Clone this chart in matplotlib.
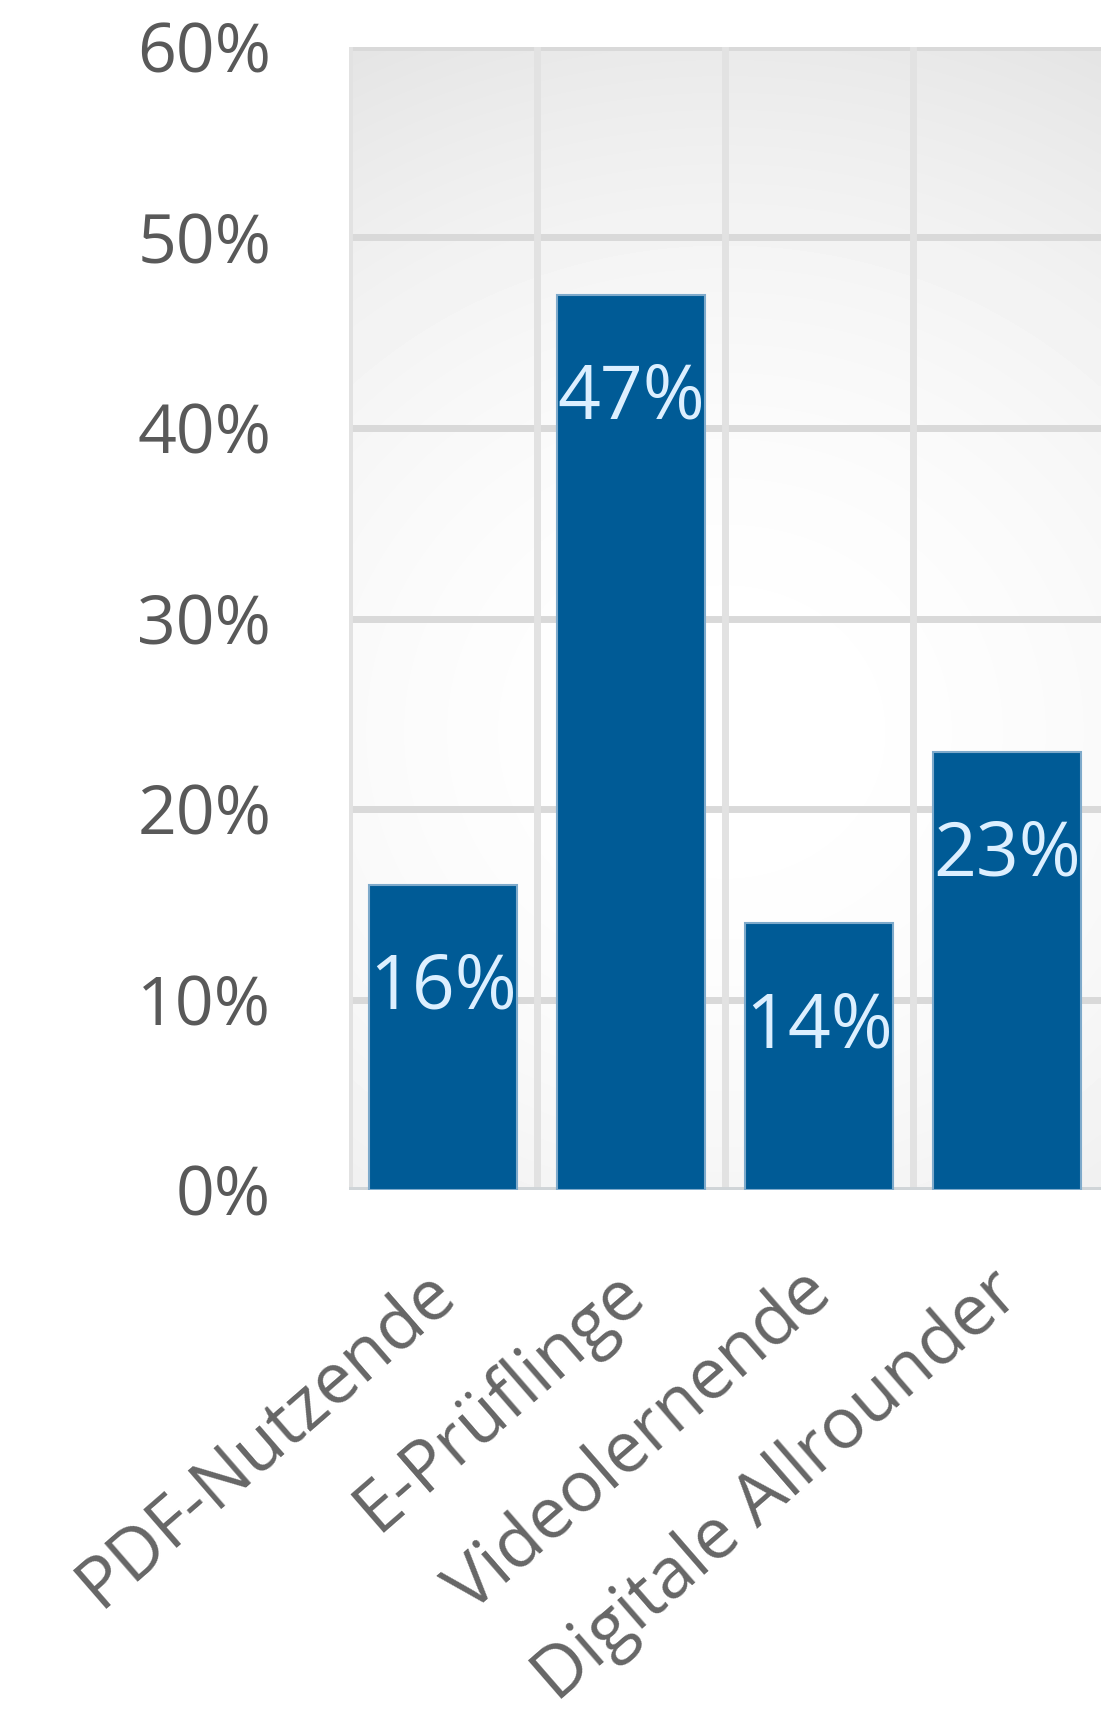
import numpy as np
import matplotlib
matplotlib.use("Agg")
import matplotlib.pyplot as plt
import matplotlib.transforms as mtransforms

# Nutzertypen und Anteile
kategorien = ["PDF-Nutzende", "E-Prüflinge", "Videolernende", "Digitale Allrounder"]
anteile = [16, 47, 14, 23]
y_ticks = [0, 10, 20, 30, 40, 50, 60]

plt.rcParams['font.family'] = ['Open Sans', 'DejaVu Sans']

fig = plt.figure(figsize=(11.03, 17.21), dpi=100)
ax = fig.add_axes([0.3164, 0.3085, 0.6816, 0.6642])

# heller radialer Verlauf im Hintergrund
gx, gy = np.meshgrid(np.linspace(0, 1, 200), np.linspace(0, 1, 300))
r = np.sqrt(((gx - 0.5) / 1.0) ** 2 + ((gy - 0.4) / 0.6) ** 2)
grad = np.clip(1 - 0.085 * r ** 2, 0.89, 1.0)
ax.imshow(grad, cmap='gray', vmin=0, vmax=1, extent=[-0.5, 3.5, 0, 60],
          origin='lower', aspect='auto', zorder=0, interpolation='bilinear')

x = np.arange(len(kategorien))
ax.bar(x, anteile, width=0.79, color='#005b96', edgecolor='#7eaacb',
       linewidth=1.5, zorder=3)

for xi, v in zip(x, anteile):
    ax.annotate(f"{v}%", (xi, v), xytext=(0, -75), textcoords='offset points',
                ha='center', va='center', fontsize=54, color='#dcefff', zorder=4)

ax.set_xlim(-0.5, 3.5)
ax.set_ylim(0, 60)

# Gitter
for t in y_ticks[1:]:
    ax.axhline(t, color='#d9d9d9', lw=5, zorder=1)
for b in [-0.5, 0.5, 1.5, 2.5]:
    ax.axvline(b, color='#e2e2e2', lw=5, zorder=1)
ax.axhline(0, color='#d0d5d8', lw=5, zorder=2)

for s in ax.spines.values():
    s.set_visible(False)

ax.set_yticks(y_ticks)
ax.set_yticklabels([f"{t}%" for t in y_ticks], fontsize=49, color='#595959')
ax.tick_params(axis='y', length=0, pad=56)

ax.set_xticks(x)
ax.set_xticklabels(kategorien, rotation=41, ha='right', va='top',
                   rotation_mode='anchor', fontsize=51, color='#666666')
ax.tick_params(axis='x', length=0, pad=48)
shift = mtransforms.ScaledTranslation(-20 / 100, 0, fig.dpi_scale_trans)
for lbl in ax.get_xticklabels():
    lbl.set_transform(lbl.get_transform() + shift)

fig.savefig("out.png", dpi=100, facecolor='white')
